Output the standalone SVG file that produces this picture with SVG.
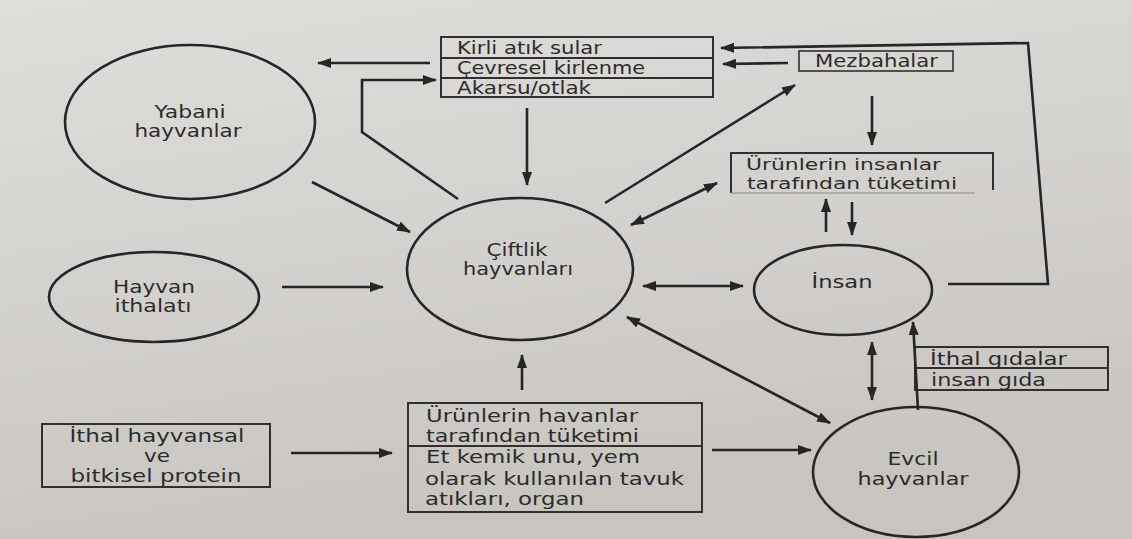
<svg xmlns="http://www.w3.org/2000/svg" width="1132" height="539" viewBox="0 0 1132 539">
<defs>
<linearGradient id="bg" x1="0" y1="0" x2="0.3" y2="1">
<stop offset="0" stop-color="#dfdedb"/>
<stop offset="0.5" stop-color="#d4d2ce"/>
<stop offset="1" stop-color="#c8c5c1"/>
</linearGradient>
<marker id="ah" viewBox="0 0 14 10" refX="13" refY="5" markerWidth="14" markerHeight="10" markerUnits="userSpaceOnUse" orient="auto-start-reverse">
<path d="M0,0 L14,5 L0,10 z" fill="#262626"/>
</marker>
<style>
.shape{fill:none;stroke:#262626;stroke-width:2.6}
.box{fill:none;stroke:#303030;stroke-width:2}
.conn{fill:none;stroke:#262626;stroke-width:2.6}
.one{marker-end:url(#ah)}
.two{marker-start:url(#ah);marker-end:url(#ah)}
text{font-family:"DejaVu Sans","Verdana",sans-serif;font-size:17px;fill:#2b2b2b}
.c{text-anchor:middle}
.s{font-size:15.5px}
</style>
</defs>
<rect x="0" y="0" width="1132" height="539" fill="url(#bg)"/>

<g id="yabani">
<ellipse class="shape" cx="190" cy="122" rx="125" ry="77"/>
<text class="c" x="190" y="118" textLength="71" lengthAdjust="spacingAndGlyphs">Yabani</text>
<text class="c" x="188" y="137" textLength="107" lengthAdjust="spacingAndGlyphs">hayvanlar</text>
</g>

<g id="hayvan-ithalati">
<ellipse class="shape" cx="154" cy="297" rx="105" ry="45"/>
<text class="c" x="154" y="293" textLength="82" lengthAdjust="spacingAndGlyphs">Hayvan</text>
<text class="c" x="153" y="312" textLength="77" lengthAdjust="spacingAndGlyphs">ithalatı</text>
</g>

<g id="ciftlik">
<ellipse class="shape" cx="520" cy="269" rx="113" ry="71"/>
<text class="c" x="517" y="256" textLength="61" lengthAdjust="spacingAndGlyphs">Çiftlik</text>
<text class="c" x="518" y="275" textLength="110" lengthAdjust="spacingAndGlyphs">hayvanları</text>
</g>

<g id="insan">
<ellipse class="shape" cx="843" cy="290" rx="89" ry="45"/>
<text class="c" x="842" y="288" textLength="61" lengthAdjust="spacingAndGlyphs">İnsan</text>
</g>

<g id="evcil">
<ellipse class="shape" cx="916" cy="472" rx="103" ry="65"/>
<text class="c" x="913" y="465" textLength="51" lengthAdjust="spacingAndGlyphs">Evcil</text>
<text class="c" x="913" y="485" textLength="111" lengthAdjust="spacingAndGlyphs">hayvanlar</text>
</g>

<g id="kirli">
<rect class="box" x="441" y="37" width="272" height="60"/>
<line class="box" x1="441" y1="58" x2="713" y2="58"/>
<line class="box" x1="441" y1="78" x2="713" y2="78"/>
<text x="457" y="54" textLength="145" lengthAdjust="spacingAndGlyphs">Kirli atık sular</text>
<text x="457" y="74" textLength="188" lengthAdjust="spacingAndGlyphs">Çevresel kirlenme</text>
<text x="457" y="94" textLength="134" lengthAdjust="spacingAndGlyphs">Akarsu/otlak</text>
</g>

<g id="mezbahalar">
<rect class="box" x="799" y="51" width="154" height="20" style="stroke-width:1.6"/>
<text x="815" y="67" textLength="123" lengthAdjust="spacingAndGlyphs">Mezbahalar</text>
</g>

<g id="urunler-insan">
<path class="box" d="M731,193 V153 H993 V190"/>
<line x1="731" y1="193" x2="975" y2="193" stroke="#8a8a88" stroke-width="1.2"/>
<text class="s" x="746" y="170" textLength="195" lengthAdjust="spacingAndGlyphs">Ürünlerin insanlar</text>
<text class="s" x="747" y="189" textLength="210" lengthAdjust="spacingAndGlyphs">tarafından tüketimi</text>
</g>

<g id="ithal-protein">
<rect class="box" x="42" y="424" width="228" height="63"/>
<text class="c" x="157" y="442" textLength="175" lengthAdjust="spacingAndGlyphs">İthal hayvansal</text>
<text class="c" x="157" y="462" textLength="26" lengthAdjust="spacingAndGlyphs">ve</text>
<text class="c" x="156" y="482" textLength="171" lengthAdjust="spacingAndGlyphs">bitkisel protein</text>
</g>

<g id="urunler-hayvan">
<rect class="box" x="408" y="403" width="294" height="109"/>
<line class="box" x1="408" y1="446" x2="702" y2="446"/>
<text x="426" y="422" textLength="212" lengthAdjust="spacingAndGlyphs">Ürünlerin havanlar</text>
<text x="426" y="442" textLength="213" lengthAdjust="spacingAndGlyphs">tarafından tüketimi</text>
<text x="426" y="463" textLength="214" lengthAdjust="spacingAndGlyphs">Et kemik unu, yem</text>
<text x="425" y="485" textLength="259" lengthAdjust="spacingAndGlyphs">olarak kullanılan tavuk</text>
<text x="425" y="505" textLength="159" lengthAdjust="spacingAndGlyphs">atıkları, organ</text>
</g>

<g id="ithal-gida">
<rect class="box" x="915" y="347" width="193" height="43"/>
<line class="box" x1="915" y1="368" x2="1108" y2="368"/>
<text x="930" y="365" textLength="137" lengthAdjust="spacingAndGlyphs">İthal gıdalar</text>
<text x="931" y="386" textLength="115" lengthAdjust="spacingAndGlyphs">insan gıda</text>
</g>

<g id="connectors">
<line class="conn one" x1="430" y1="63" x2="318" y2="63"/>
<polyline class="conn one" points="458,199 362,132 362,80 436,80"/>
<line class="conn one" x1="527" y1="108" x2="527" y2="185"/>
<line class="conn one" x1="312" y1="182" x2="410" y2="232"/>
<line class="conn one" x1="282" y1="287" x2="383" y2="287"/>
<line class="conn one" x1="605" y1="203" x2="795" y2="85"/>
<line class="conn one" x1="788" y1="63" x2="723" y2="64"/>
<line class="conn one" x1="872" y1="96" x2="872" y2="145"/>
<line class="conn two" x1="631" y1="225" x2="717" y2="183"/>
<line class="conn one" x1="826" y1="232" x2="826" y2="199"/>
<line class="conn one" x1="852" y1="202" x2="852" y2="235"/>
<line class="conn two" x1="643" y1="286" x2="743" y2="286"/>
<polyline class="conn one" points="948,284 1048,284 1028,43 721,48"/>
<line class="conn two" x1="627" y1="317" x2="830" y2="423"/>
<line class="conn two" x1="872" y1="342" x2="872" y2="400"/>
<line class="conn one" x1="918" y1="410" x2="913" y2="322"/>
<line class="conn one" x1="522" y1="390" x2="522" y2="355"/>
<line class="conn one" x1="291" y1="453" x2="392" y2="453"/>
<line class="conn one" x1="712" y1="450" x2="811" y2="450"/>
</g>
</svg>
